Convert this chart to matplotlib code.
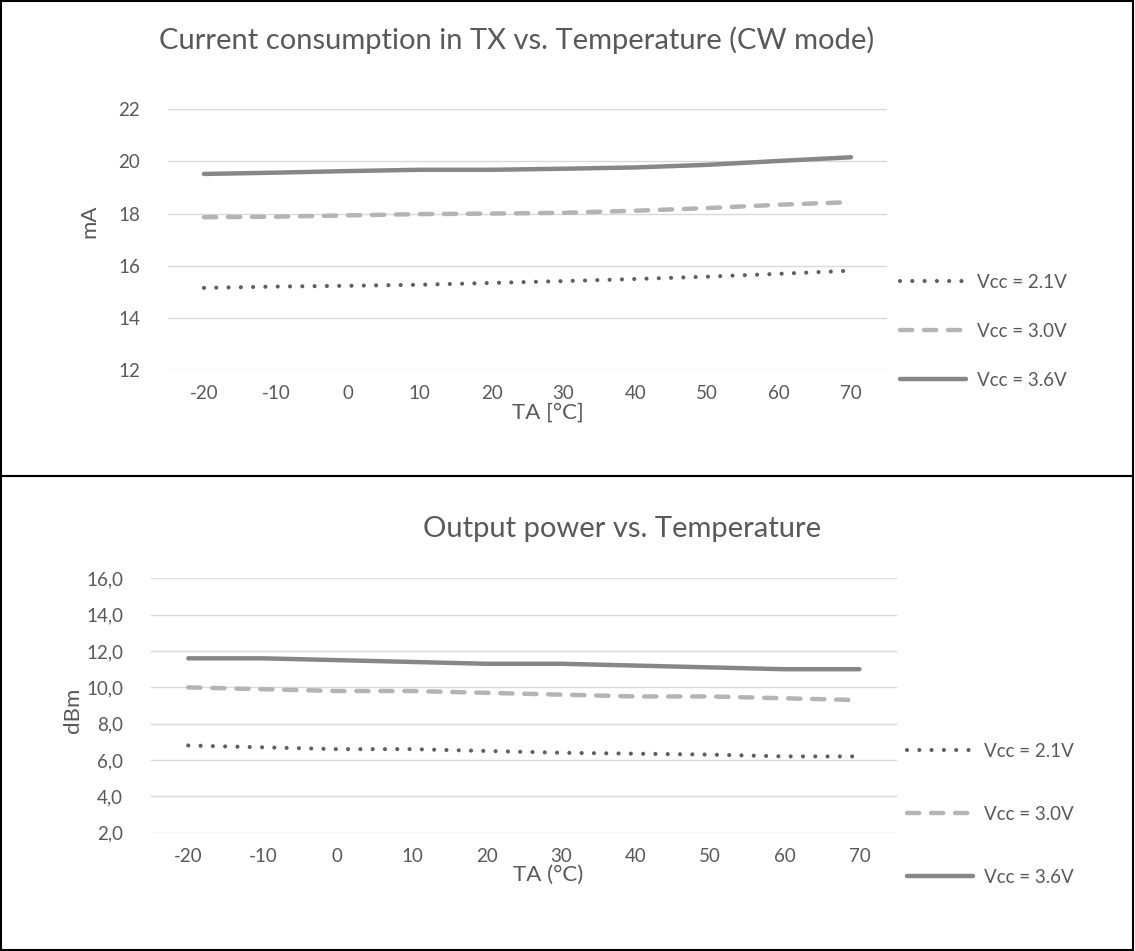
import numpy as np
import matplotlib.pyplot as plt
from matplotlib.patches import Rectangle

plt.rcParams['font.family'] = ['Lato', 'DejaVu Sans']

# Datos
temps = [-20, -10, 0, 10, 20, 30, 40, 50, 60, 70]
series_labels = ['Vcc = 2.1V', 'Vcc = 3.0V', 'Vcc = 3.6V']

# Consumo en TX (mA)
cur_21 = [15.15, 15.20, 15.23, 15.27, 15.34, 15.41, 15.49, 15.58, 15.69, 15.81]
cur_30 = [17.86, 17.88, 17.93, 17.98, 18.00, 18.03, 18.11, 18.21, 18.34, 18.44]
cur_36 = [19.52, 19.57, 19.63, 19.68, 19.68, 19.72, 19.77, 19.87, 20.02, 20.16]

# Potencia de salida (dBm)
pow_21 = [6.8, 6.7, 6.6, 6.6, 6.5, 6.4, 6.35, 6.3, 6.2, 6.2]
pow_30 = [10.0, 9.9, 9.8, 9.8, 9.7, 9.6, 9.5, 9.5, 9.4, 9.3]
pow_36 = [11.6, 11.6, 11.5, 11.4, 11.3, 11.3, 11.2, 11.1, 11.0, 11.0]

txt = '#595959'
estilos = [
    dict(color='#5f5f5f', lw=3.0, linestyle=(0, (0.001, 2.95)), dash_capstyle='round'),
    dict(color='#b4b4b4', lw=3.2, linestyle=(0, (2.75, 2.65)), dash_capstyle='round'),
    dict(color='#878787', lw=3.2, linestyle='-', solid_capstyle='round'),
]

fig = plt.figure(figsize=(11.35, 9.51), dpi=100)
x = np.arange(len(temps))


def panel(rect, data, yticks, ylabels, title, xlabel, ylabel, ylabel_pos, xlabel_x,
          title_xy, leg_anchor, leg_spacing):
    ax = fig.add_axes(rect)
    for vals, st, lab in zip(data, estilos, series_labels):
        ax.plot(x, vals, label=lab, **st)
    ax.set_xlim(-0.5, len(temps) - 0.5)
    ax.set_ylim(yticks[0], yticks[-1])
    ax.set_yticks(yticks)
    ax.set_yticklabels(ylabels)
    ax.set_xticks(x)
    ax.set_xticklabels([str(t) for t in temps])
    ax.tick_params(length=0, labelsize=13.5, colors=txt, pad=11)
    ax.tick_params(axis='y', pad=20)
    ax.grid(axis='y', color='#d9d9d9', lw=1.0)
    ax.set_axisbelow(True)
    for s in ax.spines.values():
        s.set_visible(False)
    ax.set_xlabel(xlabel, fontsize=16, color=txt)
    ax.xaxis.set_label_coords(xlabel_x, -0.125)
    ax.set_ylabel(ylabel, fontsize=16, color=txt)
    ax.yaxis.set_label_coords(*ylabel_pos)
    fig.text(title_xy[0], title_xy[1], title, fontsize=21, color=txt, ha='center', va='center')
    leg = ax.legend(loc='upper left', bbox_to_anchor=leg_anchor, bbox_transform=fig.transFigure,
                    frameon=False, fontsize=13.5, handlelength=3.5, handletextpad=0.6,
                    labelspacing=leg_spacing, borderpad=0, borderaxespad=0)
    for t in leg.get_texts():
        t.set_color(txt)
    return ax


panel([168 / 1135, 1 - 370 / 951, 719 / 1135, 260.7 / 951],
      [cur_21, cur_30, cur_36], [12, 14, 16, 18, 20, 22], ['12', '14', '16', '18', '20', '22'],
      'Current consumption in TX vs. Temperature (CW mode)', 'TA [°C]', 'mA',
      (-0.096, 0.57), 0.528, (517 / 1135, 1 - 40 / 951),
      (900 / 1135, 1 - 274 / 951), 1.7)

panel([151 / 1135, 1 - 832.7 / 951, 745.7 / 1135, 254.3 / 951],
      [pow_21, pow_30, pow_36], [2, 4, 6, 8, 10, 12, 14, 16],
      ['2,0', '4,0', '6,0', '8,0', '10,0', '12,0', '14,0', '16,0'],
      'Output power vs. Temperature', 'TA (°C)', 'dBm',
      (-0.091, 0.48), 0.532, (622 / 1135, 1 - 529 / 951),
      (907 / 1135, 1 - 743 / 951), 2.45)

# Marcos de cada panel
fig.add_artist(Rectangle((0.001, 0.4995), 0.997, 0.4995, transform=fig.transFigure,
                         fill=False, ec='black', lw=1.5))
fig.add_artist(Rectangle((0.001, 0.001), 0.997, 0.4985, transform=fig.transFigure,
                         fill=False, ec='black', lw=1.5))

fig.savefig('out.png', dpi=100)
